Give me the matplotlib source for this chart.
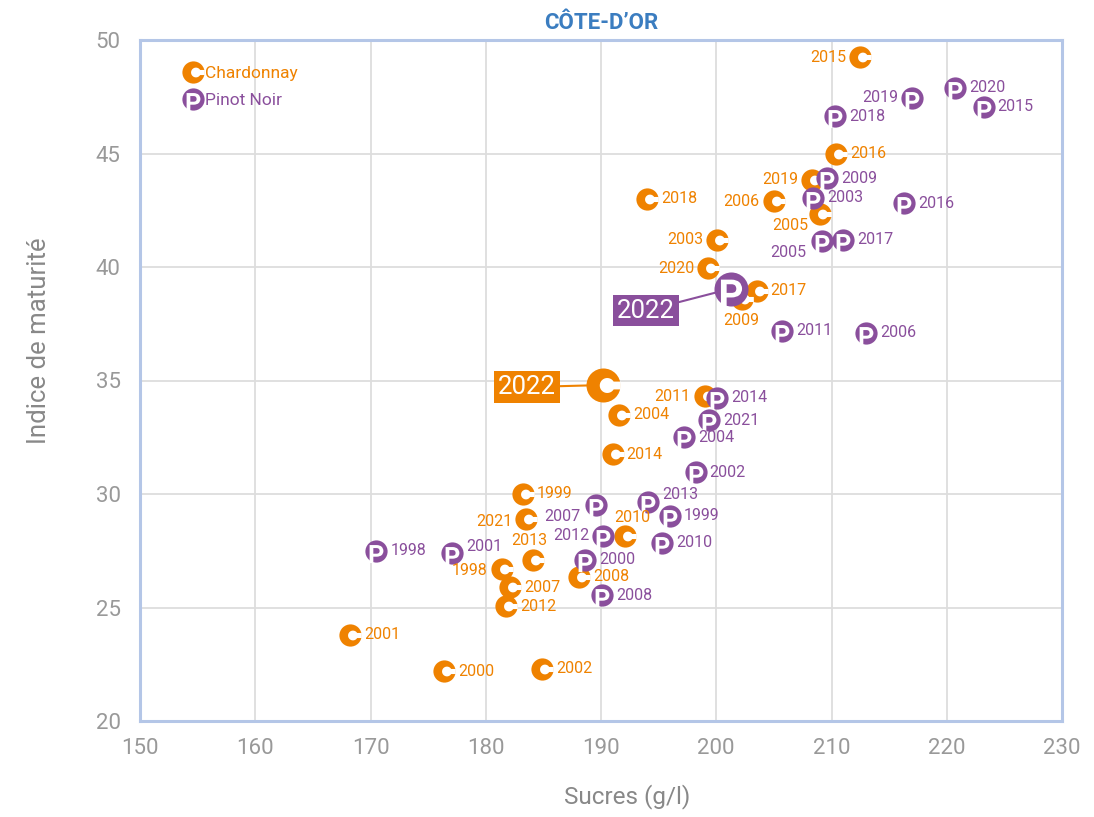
import numpy as np
import matplotlib
matplotlib.use("Agg")
import matplotlib.pyplot as plt
from matplotlib.path import Path
from matplotlib.textpath import TextPath
from matplotlib.font_manager import FontProperties
from matplotlib.lines import Line2D
import matplotlib.transforms as mtransforms

plt.rcParams['font.family'] = ['Roboto', 'DejaVu Sans']

# --- data ---
chard_years = [2015, 2016, 2019, 2006, 2005, 2018, 2003, 2020, 2017, 2009,
               2011, 2004, 2014, 1999, 2021, 2010, 2013, 1998, 2007, 2012,
               2008, 2001, 2000, 2002, 2022]
chard_sucres = [212.5, 210.4, 208.3, 205.0, 209.0, 194.0, 200.1, 199.3, 203.5, 202.2,
                199.0, 191.6, 191.0, 183.2, 183.5, 192.1, 184.1, 181.4, 182.1, 181.8,
                188.1, 168.2, 176.4, 184.9, 190.2]
chard_indice = [49.25, 45.0, 43.85, 42.9, 42.35, 43.0, 41.2, 39.95, 38.95, 38.6,
                34.3, 33.5, 31.75, 30.0, 28.9, 28.15, 27.1, 26.7, 25.9, 25.05,
                26.35, 23.8, 22.2, 22.3, 34.8]

pinot_years = [2020, 2015, 2019, 2018, 2009, 2003, 2016, 2005, 2017, 2011,
               2006, 2014, 2021, 2004, 2002, 2013, 1999, 2007, 2012, 2010,
               2000, 2008, 1998, 2001, 2022]
pinot_sucres = [220.7, 223.2, 217.0, 210.3, 209.6, 208.4, 216.3, 209.2, 211.0, 205.7,
                213.0, 200.1, 199.4, 197.2, 198.2, 194.1, 196.0, 189.6, 190.2, 195.3,
                188.6, 190.1, 170.5, 177.1, 201.3]
pinot_indice = [47.9, 47.05, 47.45, 46.65, 43.9, 43.05, 42.8, 41.15, 41.2, 37.2,
                37.1, 34.25, 33.25, 32.5, 30.95, 29.65, 29.05, 29.5, 28.15, 27.85,
                27.1, 25.55, 27.5, 27.4, 39.05]

# label placement per year: (dx px, dy px, ha)
R, L = (14, 0, 'left'), (-14, 0, 'right')
chard_pos = {2015: L, 2016: R, 2019: L, 2006: L, 2005: (-12, -12, 'right'),
             2018: R, 2003: L, 2020: L, 2017: R, 2009: (0, -22, 'center'),
             2011: L, 2004: R, 2014: R, 1999: R, 2021: (-14, -3, 'right'),
             2010: (7, 18, 'center'), 2013: (-4, 19, 'center'), 1998: (-14, -2, 'right'),
             2007: R, 2012: R, 2008: R, 2001: R, 2000: R, 2002: R}
pinot_pos = {2020: R, 2015: R, 2019: L, 2018: R, 2009: R, 2003: R, 2016: R,
             2005: (-16, -12, 'right'), 2017: R, 2011: R, 2006: R, 2014: R, 2021: R,
             2004: R, 2002: R, 2013: (14, 7, 'left'), 1999: R, 2007: (-16, -11, 'right'),
             2012: L, 2010: R, 2000: R, 2008: R, 1998: R, 2001: (14, 7, 'left')}

ORANGE = "#EF8200"
PURPLE = "#8A4F9C"
MS = 16
MS_BIG = 24.5


def c_hole_path():
    cx, r, h = 0.22, 0.44, 0.23
    a0 = np.arcsin(h / r)
    t = np.linspace(a0, 2 * np.pi - a0, 50)
    verts = list(zip(cx + r * np.cos(t), r * np.sin(t)))
    verts += [(1.02, -h), (1.02, h), verts[0]]
    return Path(verts, closed=True)


def p_hole_path():
    tp = TextPath((0, 0), "P", size=1, prop=FontProperties(family='Roboto', weight='bold'))
    ext = tp.get_extents()
    s = 1.62 / ext.height
    tr = (mtransforms.Affine2D()
          .translate(-(ext.x0 + ext.x1) / 2, -ext.y0)
          .scale(s)
          .translate(0.0, -1.04))
    return tr.transform_path(tp)


C_HOLE = c_hole_path()
P_HOLE = p_hole_path()
C_SCALE = np.abs(C_HOLE.vertices).max()
P_SCALE = np.abs(P_HOLE.vertices).max()

fig = plt.figure(figsize=(10.94, 8.17), dpi=100)
ax = fig.add_axes([140 / 1094, 1 - 721 / 817, 922 / 1094, 681 / 817])

z = 5


def draw_point(x, y, color, hole, scale, ms):
    global z
    ax.plot([x], [y], ls='none', marker='o', ms=ms, mfc=color, mec='none', zorder=z)
    ax.plot([x], [y], ls='none', marker=hole, ms=ms * scale, mfc='white',
            mec='none', mew=0, zorder=z + 0.5)
    z += 1


for yr, xs, ys in zip(chard_years, chard_sucres, chard_indice):
    draw_point(xs, ys, ORANGE, C_HOLE, C_SCALE, MS_BIG if yr == 2022 else MS)
for yr, xs, ys in zip(pinot_years, pinot_sucres, pinot_indice):
    draw_point(xs, ys, PURPLE, P_HOLE, P_SCALE, MS_BIG if yr == 2022 else MS)

for years, xs, ys, pos, col in [(chard_years, chard_sucres, chard_indice, chard_pos, ORANGE),
                                (pinot_years, pinot_sucres, pinot_indice, pinot_pos, PURPLE)]:
    for yr, x, y in zip(years, xs, ys):
        if yr == 2022:
            continue
        dx, dy, ha = pos[yr]
        ax.annotate(str(yr), (x, y), xytext=(dx, dy), textcoords='offset pixels',
                    ha=ha, va='center', color=col, fontsize=11.5, zorder=200)

# highlighted 2022 labels
ax.annotate("2022", (chard_sucres[-1], chard_indice[-1]), xytext=(-47, -2),
            textcoords='offset pixels', ha='right', va='center', color='white',
            fontsize=18.5, zorder=3,
            bbox=dict(boxstyle='square,pad=0.15', fc=ORANGE, ec='none'),
            arrowprops=dict(arrowstyle='-', color=ORANGE, lw=1.5, shrinkA=0, shrinkB=0))
ax.annotate("2022", (pinot_sucres[-1], pinot_indice[-1]), xytext=(-56, -22),
            textcoords='offset pixels', ha='right', va='center', color='white',
            fontsize=18.5, zorder=3,
            bbox=dict(boxstyle='square,pad=0.15', fc=PURPLE, ec='none'),
            arrowprops=dict(arrowstyle='-', color=PURPLE, lw=1.5, shrinkA=0, shrinkB=0))

# legend
c_disk = Line2D([], [], ls='none', marker='o', ms=MS, mfc=ORANGE, mec='none')
c_h = Line2D([], [], ls='none', marker=C_HOLE, ms=MS * C_SCALE, mfc='white', mec='none', mew=0)
p_disk = Line2D([], [], ls='none', marker='o', ms=MS, mfc=PURPLE, mec='none')
p_h = Line2D([], [], ls='none', marker=P_HOLE, ms=MS * P_SCALE, mfc='white', mec='none', mew=0)
ax.legend([(c_disk, c_h), (p_disk, p_h)], ["Chardonnay", "Pinot Noir"],
          loc='upper left', bbox_to_anchor=(0.049, 0.962), frameon=False,
          handlelength=0.9, handletextpad=0.25, labelspacing=0.7, fontsize=12.5,
          labelcolor=[ORANGE, PURPLE], borderaxespad=0, borderpad=0)

ax.set_xlim(150, 230)
ax.set_ylim(20, 50)
ax.set_xticks(np.arange(150, 231, 10))
ax.set_yticks(np.arange(20, 51, 5))
ax.grid(color='#dddddd', lw=1.3)
ax.set_axisbelow(True)
for sp in ax.spines.values():
    sp.set_color('#b4c6e7')
    sp.set_linewidth(2.2)
ax.tick_params(length=0, labelsize=16, colors='#999999')
ax.tick_params(axis='x', pad=12)
ax.tick_params(axis='y', pad=14)

ax.set_xlabel("Sucres (g/l)", fontsize=17.5, color='#888888')
ax.xaxis.set_label_coords(0.528, -0.093)
ax.set_ylabel("Indice de maturité", fontsize=18.5, color='#888888')
ax.yaxis.set_label_coords(-0.096, 0.559)
ax.set_title("CÔTE-D’OR", fontsize=16, fontweight='bold', color='#3B7DC0', pad=8)

fig.savefig("out.png", dpi=100)
